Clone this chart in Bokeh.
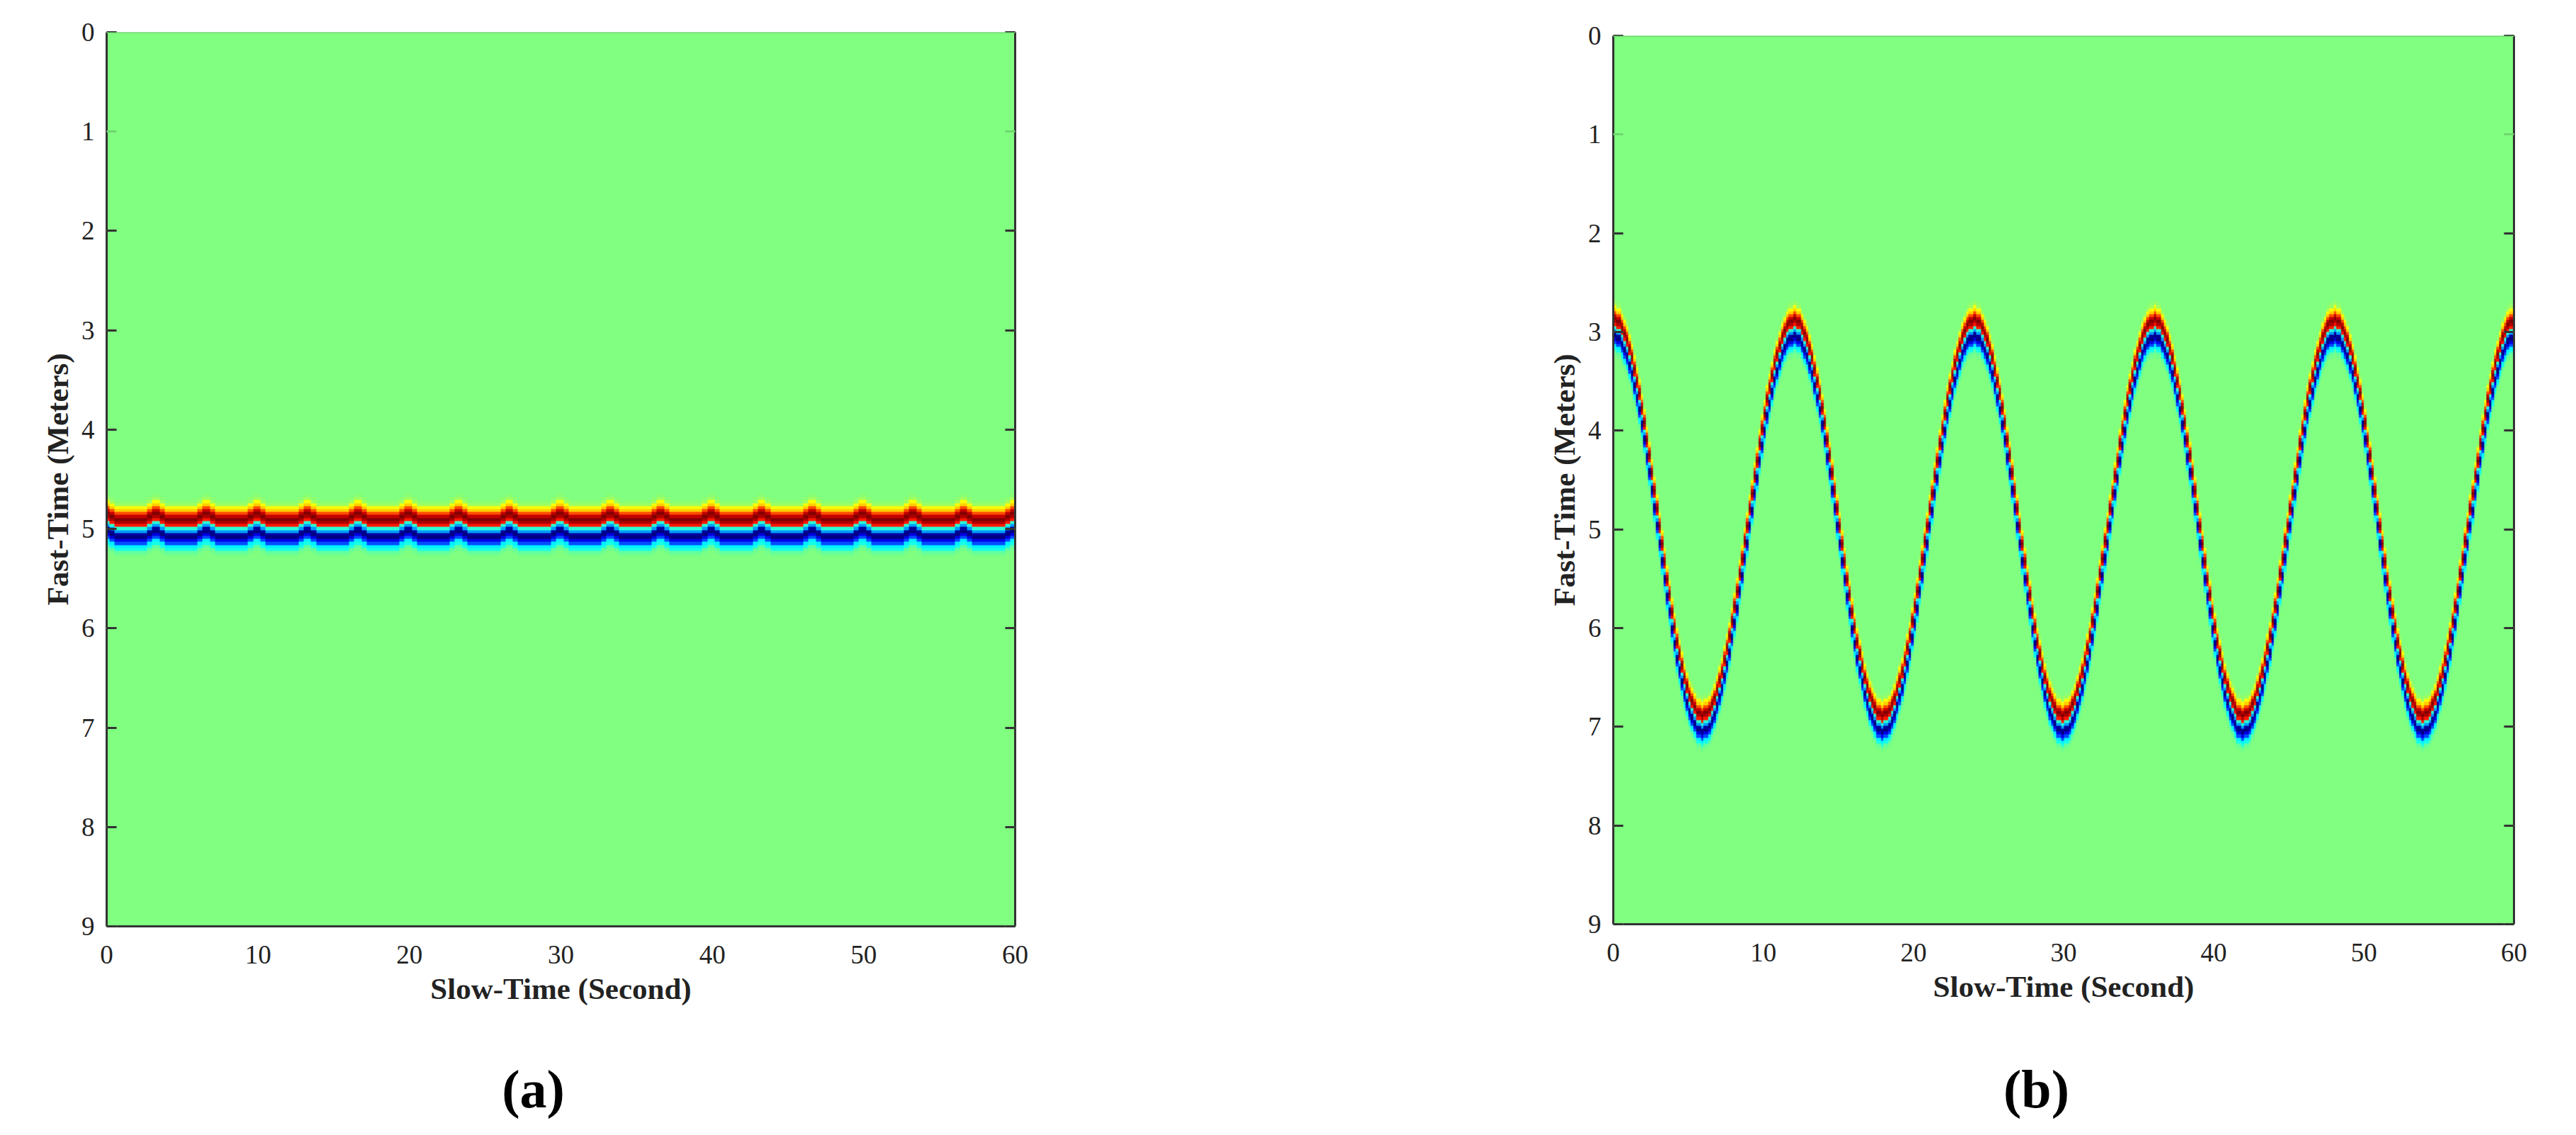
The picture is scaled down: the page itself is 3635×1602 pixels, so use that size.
from bokeh.embed import file_html
from bokeh.layouts import column, row
from bokeh.models import FixedTicker, Label, LinearAxis, LinearColorMapper, Range1d, Span
from bokeh.plotting import figure
from bokeh.resources import INLINE
import numpy as np

# axis ticks
slow_ticks = [0, 10, 20, 30, 40, 50, 60]
fast_ticks = [0, 1, 2, 3, 4, 5, 6, 7, 8, 9]

# echo seen down one slow-time column, one entry per fast-time bin, top to bottom
echo = [0.51, 0.53, 0.62, 0.67, 0.80, 0.93, 1.00, 0.95, 0.85,
        0.42, 0.28, 0.03, 0.00, 0.10, 0.20, 0.36, 0.40, 0.47, 0.49]
echo_center = 9

# depth of the echo in metres, every 1/6 second
# (a) one ripple of about 3.33 s, repeated 18 times
depth_a = [4.92, 4.95, 4.95, 4.98, 4.98, 4.98, 4.98, 4.98, 4.98, 4.98,
           4.98, 4.98, 4.98, 4.98, 4.98, 4.98, 4.95, 4.95, 4.92, 4.92]
# (b) one breath of 12 s, repeated 5 times
depth_b = [2.95, 2.96, 2.98, 3.02, 3.08, 3.15, 3.23, 3.33, 3.44, 3.57, 3.70, 3.84,
           4.00, 4.16, 4.33, 4.50, 4.68, 4.86, 5.04, 5.22, 5.40, 5.57, 5.74, 5.90,
           6.06, 6.20, 6.33, 6.46, 6.57, 6.67, 6.75, 6.82, 6.88, 6.92, 6.94, 6.95,
           6.94, 6.92, 6.89, 6.84, 6.77, 6.70, 6.61, 6.51, 6.39, 6.27, 6.14, 6.00,
           5.85, 5.70, 5.53, 5.37, 5.20, 5.03, 4.87, 4.70, 4.53, 4.37, 4.20, 4.05,
           3.90, 3.76, 3.63, 3.51, 3.39, 3.29, 3.20, 3.13, 3.06, 3.01, 2.98, 2.96]

BIN = 0.03
ROWS = 300
DARK = "#333333"
FAINT = "#6fd66f"


def jet(n):
    out = []
    for x in np.linspace(0, 1, n):
        r, g, b = [min(max(1.5 - abs(4 * x - c), 0), 1) for c in (3, 2, 1)]
        out.append("#%02x%02x%02x" % (round(r * 255), round(g * 255), round(b * 255)))
    return out


def build_image(depths):
    img = np.full((ROWS, len(depths)), 0.5)
    for col, d in enumerate(depths):
        top = int(round(d / BIN)) - echo_center
        img[top:top + len(echo), col] = echo
    return img


def panel(depths, width, left, right, top, bottom, frame_h):
    p = figure(width=width, height=top + frame_h + bottom, x_range=Range1d(0, 60), y_range=Range1d(9, 0),
               output_backend="svg", toolbar_location=None,
               min_border_left=left, min_border_right=right, min_border_top=top, min_border_bottom=bottom,
               x_axis_label="Slow-Time (Second)", y_axis_label="Fast-Time (Meters)")
    mapper = LinearColorMapper(palette=jet(257), low=0, high=1)
    p.image(image=[build_image(depths)], x=0, y=0, dw=60, dh=9, color_mapper=mapper)
    p.grid.visible = False
    p.outline_line_color = None

    p.xaxis.ticker = FixedTicker(ticks=slow_ticks)
    p.yaxis.ticker = FixedTicker(ticks=fast_ticks, minor_ticks=[t for t in fast_ticks if t != 1])
    for ax in [p.xaxis[0], p.yaxis[0]]:
        ax.axis_line_color = DARK
        ax.axis_line_width = 3
        ax.major_label_text_font = "Liberation Serif"
        ax.major_label_text_font_size = "37px"
        ax.major_label_text_color = "#222222"
        ax.axis_label_text_font = "Liberation Serif"
        ax.axis_label_text_font_size = "43px"
        ax.axis_label_text_font_style = "bold"
        ax.axis_label_text_color = "#222222"
        ax.major_tick_out = 0
        ax.minor_tick_out = 0
    p.xaxis.major_tick_in = 0
    p.xaxis.minor_tick_in = 0
    p.xaxis.major_label_standoff = 27
    p.xaxis.axis_label_standoff = 9
    p.yaxis.major_tick_in = 14
    p.yaxis.minor_tick_in = 14
    p.yaxis.major_tick_line_color = FAINT
    p.yaxis.major_tick_line_width = 3
    p.yaxis.minor_tick_line_color = DARK
    p.yaxis.minor_tick_line_width = 3
    p.yaxis.major_label_standoff = 17
    p.yaxis.major_label_orientation = "horizontal"
    p.yaxis.axis_label_standoff = 7

    # right edge has the same ticks but no numbers
    rax = LinearAxis(ticker=FixedTicker(ticks=fast_ticks, minor_ticks=[t for t in fast_ticks if t != 1]),
                     axis_line_color=DARK, axis_line_width=3,
                     major_tick_in=14, major_tick_out=0, major_tick_line_color=FAINT, major_tick_line_width=3,
                     minor_tick_in=14, minor_tick_out=0, minor_tick_line_color=DARK, minor_tick_line_width=3,
                     major_label_text_color=None, major_label_text_font_size="1px", major_label_standoff=0)
    p.add_layout(rax, "right")
    p.add_layout(Span(location=0, dimension="width", line_color=FAINT, line_width=3))
    return p


# labels get clipped to the frame, so each caption sits in a little figure of its own
def caption(letter, width, left, right, cap_x):
    c = figure(width=width, height=150, x_range=Range1d(0, 1), y_range=Range1d(0, 1),
               output_backend="svg", toolbar_location=None, x_axis_location=None, y_axis_location=None,
               min_border_left=left, min_border_right=right, min_border_top=0, min_border_bottom=0)
    c.grid.visible = False
    c.outline_line_color = None
    c.add_layout(Label(x=cap_x, y=51, x_units="screen", y_units="screen", text=letter,
                       text_align="center", text_baseline="middle",
                       text_font="Liberation Serif", text_font_size="76px", text_font_style="bold",
                       text_color="black"))
    return c


p1 = panel(depth_a * 18, 2000, 150, 568, 45, 130, 1262)
p2 = panel(depth_b * 5, 1627, 276, 80, 50, 133, 1254)
c1 = caption("(a)", 2000, 150, 568, 602)
c2 = caption("(b)", 1627, 276, 80, 597)
p = row(column(p1, c1, spacing=0), column(p2, c2, spacing=0), spacing=0)

open("out.html", "w").write(file_html(p, INLINE))
